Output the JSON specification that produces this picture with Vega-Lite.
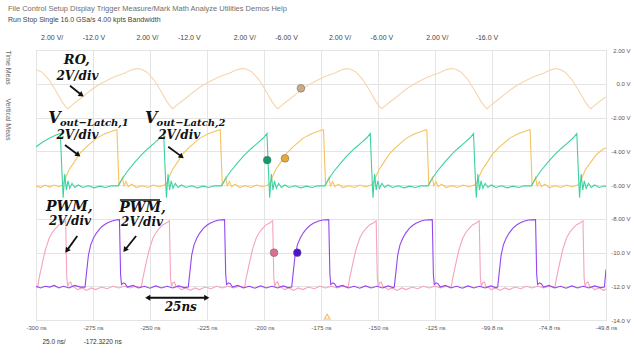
{
  "$schema": "https://vega.github.io/schema/vega-lite/v6.json",
  "width": 570,
  "height": 270,
  "autosize": {"type": "none"},
  "padding": {"left": 36, "top": 50, "right": 28, "bottom": 34},
  "background": "white",
  "config": {"view": {"stroke": "#bdbdbd", "strokeWidth": 1}, "font": "Liberation Sans"},
  "title": {
    "text": "File  Control  Setup  Display  Trigger  Measure/Mark  Math  Analyze  Utilities  Demos  Help",
    "subtitle": ["Run  Stop  Single     16.0 GSa/s     4.00 kpts     Bandwidth", "\u200b\u00a0\u00a0\u00a0\u00a0\u00a0\u00a0\u00a0\u00a0\u00a0\u00a0\u00a0\u00a0\u00a0\u00a0\u00a0\u00a0\u00a02.00 V/\u00a0\u00a0\u00a0\u00a0\u00a0\u00a0\u00a0\u00a0\u00a0\u00a0-12.0 V\u00a0\u00a0\u00a0\u00a0\u00a0\u00a0\u00a0\u00a0\u00a0\u00a0\u00a0\u00a0\u00a0\u00a0\u00a0\u00a02.00 V/\u00a0\u00a0\u00a0\u00a0\u00a0\u00a0\u00a0\u00a0\u00a0\u00a0-12.0 V\u00a0\u00a0\u00a0\u00a0\u00a0\u00a0\u00a0\u00a0\u00a0\u00a0\u00a0\u00a0\u00a0\u00a0\u00a0\u00a0\u00a02.00 V/\u00a0\u00a0\u00a0\u00a0\u00a0\u00a0\u00a0\u00a0\u00a0\u00a0-6.00 V\u00a0\u00a0\u00a0\u00a0\u00a0\u00a0\u00a0\u00a0\u00a0\u00a0\u00a0\u00a0\u00a0\u00a0\u00a0\u00a02.00 V/\u00a0\u00a0\u00a0\u00a0\u00a0\u00a0\u00a0\u00a0\u00a0\u00a0-6.00 V\u00a0\u00a0\u00a0\u00a0\u00a0\u00a0\u00a0\u00a0\u00a0\u00a0\u00a0\u00a0\u00a0\u00a0\u00a0\u00a0\u00a02.00 V/\u00a0\u00a0\u00a0\u00a0\u00a0\u00a0\u00a0\u00a0\u00a0\u00a0\u00a0\u00a0\u00a0\u00a0-16.0 V"],
    "anchor": "start",
    "frame": "group",
    "dx": -28,
    "offset": 6,
    "font": "Liberation Sans",
    "fontSize": 7.5,
    "fontWeight": "normal",
    "color": "#707070",
    "subtitleFont": "Liberation Sans",
    "subtitleFontSize": 7,
    "subtitleColor": "#444444",
    "subtitlePadding": 4,
    "subtitleLineHeight": 18
  },
  "resolve": {"axis": {"y": "independent"}},
  "datasets": {
    "tr": [
      {"c":"R","t":-300,"v":0.82},{"c":"R","t":-299.5,"v":0.8},{"c":"R","t":-297.5,"v":0.7},{"c":"R","t":-296.0,"v":0.5},{"c":"R","t":-294.4,"v":0.25},{"c":"R","t":-291.5,"v":-0.37},{"c":"R","t":-288.6,"v":-1.06},{"c":"R","t":-287.0,"v":-1.35},{"c":"R","t":-286.0,"v":-1.48},
      {"c":"R","t":-284.5,"v":-1.3},{"c":"R","t":-282.5,"v":-1.08},{"c":"R","t":-280.3,"v":-0.86},{"c":"R","t":-278.0,"v":-0.6},{"c":"R","t":-275.8,"v":-0.37},{"c":"R","t":-273.0,"v":-0.1},{"c":"R","t":-270.0,"v":0.12},{"c":"R","t":-265.6,"v":0.42},{"c":"R","t":-261.2,"v":0.62},{"c":"R","t":-258.5,"v":0.8},{"c":"R","t":-256.5,"v":0.88},
      {"c":"R","t":-255.0,"v":0.9},{"c":"R","t":-253.5,"v":0.84},{"c":"R","t":-251.5,"v":0.7},{"c":"R","t":-250.0,"v":0.5},{"c":"R","t":-248.4,"v":0.25},{"c":"R","t":-245.5,"v":-0.37},{"c":"R","t":-242.6,"v":-1.06},{"c":"R","t":-241.0,"v":-1.35},{"c":"R","t":-240.0,"v":-1.48},
      {"c":"R","t":-238.5,"v":-1.3},{"c":"R","t":-236.5,"v":-1.08},{"c":"R","t":-234.3,"v":-0.86},{"c":"R","t":-232.0,"v":-0.6},{"c":"R","t":-229.8,"v":-0.37},{"c":"R","t":-227.0,"v":-0.1},{"c":"R","t":-224.0,"v":0.12},{"c":"R","t":-219.6,"v":0.42},{"c":"R","t":-215.2,"v":0.62},{"c":"R","t":-212.5,"v":0.8},{"c":"R","t":-210.5,"v":0.88},
      {"c":"R","t":-208.9,"v":0.9},{"c":"R","t":-207.4,"v":0.84},{"c":"R","t":-205.4,"v":0.7},{"c":"R","t":-203.9,"v":0.5},{"c":"R","t":-202.3,"v":0.25},{"c":"R","t":-199.4,"v":-0.37},{"c":"R","t":-196.5,"v":-1.06},{"c":"R","t":-194.9,"v":-1.35},{"c":"R","t":-193.9,"v":-1.48},
      {"c":"R","t":-192.4,"v":-1.3},{"c":"R","t":-190.4,"v":-1.08},{"c":"R","t":-188.2,"v":-0.86},{"c":"R","t":-185.9,"v":-0.6},{"c":"R","t":-183.7,"v":-0.37},{"c":"R","t":-180.9,"v":-0.1},{"c":"R","t":-177.9,"v":0.12},{"c":"R","t":-173.5,"v":0.42},{"c":"R","t":-169.1,"v":0.62},{"c":"R","t":-166.4,"v":0.8},{"c":"R","t":-164.4,"v":0.88},
      {"c":"R","t":-163.3,"v":0.9},{"c":"R","t":-161.8,"v":0.84},{"c":"R","t":-159.8,"v":0.7},{"c":"R","t":-158.3,"v":0.5},{"c":"R","t":-156.7,"v":0.25},{"c":"R","t":-153.8,"v":-0.37},{"c":"R","t":-150.9,"v":-1.06},{"c":"R","t":-149.3,"v":-1.35},{"c":"R","t":-148.3,"v":-1.48},
      {"c":"R","t":-146.8,"v":-1.3},{"c":"R","t":-144.8,"v":-1.08},{"c":"R","t":-142.6,"v":-0.86},{"c":"R","t":-140.3,"v":-0.6},{"c":"R","t":-138.1,"v":-0.37},{"c":"R","t":-135.3,"v":-0.1},{"c":"R","t":-132.3,"v":0.12},{"c":"R","t":-127.9,"v":0.42},{"c":"R","t":-123.5,"v":0.62},{"c":"R","t":-120.8,"v":0.8},{"c":"R","t":-118.8,"v":0.88},
      {"c":"R","t":-117.2,"v":0.9},{"c":"R","t":-115.7,"v":0.84},{"c":"R","t":-113.7,"v":0.7},{"c":"R","t":-112.2,"v":0.5},{"c":"R","t":-110.6,"v":0.25},{"c":"R","t":-107.7,"v":-0.37},{"c":"R","t":-104.8,"v":-1.06},{"c":"R","t":-103.2,"v":-1.35},{"c":"R","t":-102.2,"v":-1.48},
      {"c":"R","t":-100.7,"v":-1.3},{"c":"R","t":-98.7,"v":-1.08},{"c":"R","t":-96.5,"v":-0.86},{"c":"R","t":-94.2,"v":-0.6},{"c":"R","t":-92.0,"v":-0.37},{"c":"R","t":-89.2,"v":-0.1},{"c":"R","t":-86.2,"v":0.12},{"c":"R","t":-81.8,"v":0.42},{"c":"R","t":-77.4,"v":0.62},{"c":"R","t":-74.7,"v":0.8},{"c":"R","t":-72.7,"v":0.88},
      {"c":"R","t":-71.6,"v":0.9},{"c":"R","t":-70.1,"v":0.84},{"c":"R","t":-68.1,"v":0.7},{"c":"R","t":-66.6,"v":0.5},{"c":"R","t":-65.0,"v":0.25},{"c":"R","t":-62.1,"v":-0.37},{"c":"R","t":-59.2,"v":-1.06},{"c":"R","t":-57.6,"v":-1.35},{"c":"R","t":-56.6,"v":-1.48},
      {"c":"R","t":-55.1,"v":-1.3},{"c":"R","t":-53.1,"v":-1.08},{"c":"R","t":-50.9,"v":-0.86},{"c":"R","t":-50.0,"v":-0.78},

      {"c":"O","t":-300,"v":-6.05},{"c":"O","t":-298,"v":-6.15},{"c":"O","t":-296,"v":-6.0},{"c":"O","t":-294,"v":-6.12},{"c":"O","t":-292,"v":-6.0},{"c":"O","t":-290,"v":-6.1},{"c":"O","t":-288.6,"v":-6.02},
      {"c":"O","t":-288.0,"v":-5.9},{"c":"O","t":-287.0,"v":-5.55},{"c":"O","t":-285.5,"v":-5.1},{"c":"O","t":-283.6,"v":-4.72},{"c":"O","t":-280.7,"v":-4.12},{"c":"O","t":-278.0,"v":-3.75},{"c":"O","t":-273.4,"v":-3.22},{"c":"O","t":-270.0,"v":-2.98},{"c":"O","t":-266.1,"v":-2.78},{"c":"O","t":-264.5,"v":-2.72},{"c":"O","t":-263.6,"v":-6.0},{"c":"O","t":-262.8,"v":-5.8},{"c":"O","t":-262.1,"v":-5.55},{"c":"O","t":-261.4,"v":-6.05},{"c":"O","t":-260.5,"v":-5.8},{"c":"O","t":-259.5,"v":-6.1},{"c":"O","t":-258.0,"v":-5.95},{"c":"O","t":-256.0,"v":-6.15},{"c":"O","t":-253.5,"v":-6.05},{"c":"O","t":-251.0,"v":-6.15},{"c":"O","t":-248.5,"v":-6.0},{"c":"O","t":-246.0,"v":-6.12},{"c":"O","t":-243.7,"v":-6.0},
      {"c":"O","t":-242.7,"v":-5.9},{"c":"O","t":-241.7,"v":-5.55},{"c":"O","t":-240.2,"v":-5.1},{"c":"O","t":-238.3,"v":-4.72},{"c":"O","t":-235.4,"v":-4.12},{"c":"O","t":-232.7,"v":-3.75},{"c":"O","t":-228.1,"v":-3.22},{"c":"O","t":-224.7,"v":-2.98},{"c":"O","t":-220.8,"v":-2.78},{"c":"O","t":-219.2,"v":-2.72},{"c":"O","t":-218.3,"v":-6.0},{"c":"O","t":-217.5,"v":-5.8},{"c":"O","t":-216.8,"v":-5.55},{"c":"O","t":-216.1,"v":-6.05},{"c":"O","t":-215.2,"v":-5.8},{"c":"O","t":-214.2,"v":-6.1},{"c":"O","t":-212.7,"v":-5.95},{"c":"O","t":-210.7,"v":-6.15},{"c":"O","t":-208.2,"v":-6.05},{"c":"O","t":-205.7,"v":-6.15},{"c":"O","t":-203.2,"v":-6.0},{"c":"O","t":-200.7,"v":-6.12},{"c":"O","t":-198.4,"v":-6.0},
      {"c":"O","t":-197.4,"v":-5.9},{"c":"O","t":-196.4,"v":-5.55},{"c":"O","t":-194.9,"v":-5.1},{"c":"O","t":-193.0,"v":-4.72},{"c":"O","t":-190.1,"v":-4.12},{"c":"O","t":-187.4,"v":-3.75},{"c":"O","t":-182.8,"v":-3.22},{"c":"O","t":-179.4,"v":-2.98},{"c":"O","t":-175.5,"v":-2.78},{"c":"O","t":-173.9,"v":-2.72},{"c":"O","t":-173.0,"v":-6.0},{"c":"O","t":-172.2,"v":-5.8},{"c":"O","t":-171.5,"v":-5.55},{"c":"O","t":-170.8,"v":-6.05},{"c":"O","t":-169.9,"v":-5.8},{"c":"O","t":-168.9,"v":-6.1},{"c":"O","t":-167.4,"v":-5.95},{"c":"O","t":-165.4,"v":-6.15},{"c":"O","t":-162.9,"v":-6.05},{"c":"O","t":-160.4,"v":-6.15},{"c":"O","t":-157.9,"v":-6.0},{"c":"O","t":-155.4,"v":-6.12},{"c":"O","t":-153.1,"v":-6.0},
      {"c":"O","t":-152.1,"v":-5.9},{"c":"O","t":-151.1,"v":-5.55},{"c":"O","t":-149.6,"v":-5.1},{"c":"O","t":-147.7,"v":-4.72},{"c":"O","t":-144.8,"v":-4.12},{"c":"O","t":-142.1,"v":-3.75},{"c":"O","t":-137.5,"v":-3.22},{"c":"O","t":-134.1,"v":-2.98},{"c":"O","t":-130.2,"v":-2.78},{"c":"O","t":-128.6,"v":-2.72},{"c":"O","t":-127.7,"v":-6.0},{"c":"O","t":-126.9,"v":-5.8},{"c":"O","t":-126.2,"v":-5.55},{"c":"O","t":-125.5,"v":-6.05},{"c":"O","t":-124.6,"v":-5.8},{"c":"O","t":-123.6,"v":-6.1},{"c":"O","t":-122.1,"v":-5.95},{"c":"O","t":-120.1,"v":-6.15},{"c":"O","t":-117.6,"v":-6.05},{"c":"O","t":-115.1,"v":-6.15},{"c":"O","t":-112.6,"v":-6.0},{"c":"O","t":-110.1,"v":-6.12},{"c":"O","t":-107.8,"v":-6.0},
      {"c":"O","t":-106.8,"v":-5.9},{"c":"O","t":-105.8,"v":-5.55},{"c":"O","t":-104.3,"v":-5.1},{"c":"O","t":-102.4,"v":-4.72},{"c":"O","t":-99.5,"v":-4.12},{"c":"O","t":-96.8,"v":-3.75},{"c":"O","t":-92.2,"v":-3.22},{"c":"O","t":-88.8,"v":-2.98},{"c":"O","t":-84.9,"v":-2.78},{"c":"O","t":-83.3,"v":-2.72},{"c":"O","t":-82.4,"v":-6.0},{"c":"O","t":-81.6,"v":-5.8},{"c":"O","t":-80.9,"v":-5.55},{"c":"O","t":-80.2,"v":-6.05},{"c":"O","t":-79.3,"v":-5.8},{"c":"O","t":-78.3,"v":-6.1},{"c":"O","t":-76.8,"v":-5.95},{"c":"O","t":-74.8,"v":-6.15},{"c":"O","t":-72.3,"v":-6.05},{"c":"O","t":-69.8,"v":-6.15},{"c":"O","t":-67.3,"v":-6.0},{"c":"O","t":-64.8,"v":-6.12},{"c":"O","t":-62.5,"v":-6.0},
      {"c":"O","t":-61.5,"v":-5.9},{"c":"O","t":-60.5,"v":-5.55},{"c":"O","t":-59.0,"v":-5.1},{"c":"O","t":-57.1,"v":-4.72},{"c":"O","t":-54.2,"v":-4.2},{"c":"O","t":-51.5,"v":-3.9},{"c":"O","t":-50.0,"v":-3.8},

      {"c":"G","t":-300,"v":-3.73},{"c":"G","t":-297,"v":-3.45},{"c":"G","t":-294,"v":-3.22},{"c":"G","t":-291.5,"v":-3.05},{"c":"G","t":-289.3,"v":-2.95},
      {"c":"G","t":-288.7,"v":-5.0},{"c":"G","t":-288.1,"v":-6.75},{"c":"G","t":-287.4,"v":-5.35},{"c":"G","t":-286.7,"v":-6.3},{"c":"G","t":-286.0,"v":-5.75},{"c":"G","t":-285.2,"v":-6.2},{"c":"G","t":-284.2,"v":-5.9},{"c":"G","t":-283.0,"v":-6.15},{"c":"G","t":-281.5,"v":-6.0},{"c":"G","t":-279.5,"v":-6.15},{"c":"G","t":-277.0,"v":-6.05},{"c":"G","t":-274.5,"v":-6.17},{"c":"G","t":-272.0,"v":-6.07},{"c":"G","t":-269.5,"v":-6.15},{"c":"G","t":-267.0,"v":-6.05},{"c":"G","t":-264.0,"v":-6.05},{"c":"G","t":-262.5,"v":-5.7},{"c":"G","t":-260.0,"v":-5.2},{"c":"G","t":-257.0,"v":-4.7},{"c":"G","t":-254.0,"v":-4.25},{"c":"G","t":-251.0,"v":-3.85},{"c":"G","t":-248.0,"v":-3.5},{"c":"G","t":-245.5,"v":-3.2},{"c":"G","t":-244.0,"v":-2.95},
      {"c":"G","t":-243.4,"v":-5.0},{"c":"G","t":-242.8,"v":-6.75},{"c":"G","t":-242.1,"v":-5.35},{"c":"G","t":-241.4,"v":-6.3},{"c":"G","t":-240.7,"v":-5.75},{"c":"G","t":-239.9,"v":-6.2},{"c":"G","t":-238.9,"v":-5.9},{"c":"G","t":-237.7,"v":-6.15},{"c":"G","t":-236.2,"v":-6.0},{"c":"G","t":-234.2,"v":-6.15},{"c":"G","t":-231.7,"v":-6.05},{"c":"G","t":-229.2,"v":-6.17},{"c":"G","t":-226.7,"v":-6.07},{"c":"G","t":-224.2,"v":-6.15},{"c":"G","t":-221.7,"v":-6.05},{"c":"G","t":-218.7,"v":-6.05},{"c":"G","t":-217.2,"v":-5.7},{"c":"G","t":-214.7,"v":-5.2},{"c":"G","t":-211.7,"v":-4.7},{"c":"G","t":-208.7,"v":-4.25},{"c":"G","t":-205.7,"v":-3.85},{"c":"G","t":-202.7,"v":-3.5},{"c":"G","t":-200.2,"v":-3.2},{"c":"G","t":-198.7,"v":-2.95},
      {"c":"G","t":-198.1,"v":-5.0},{"c":"G","t":-197.5,"v":-6.75},{"c":"G","t":-196.8,"v":-5.35},{"c":"G","t":-196.1,"v":-6.3},{"c":"G","t":-195.4,"v":-5.75},{"c":"G","t":-194.6,"v":-6.2},{"c":"G","t":-193.6,"v":-5.9},{"c":"G","t":-192.4,"v":-6.15},{"c":"G","t":-190.9,"v":-6.0},{"c":"G","t":-188.9,"v":-6.15},{"c":"G","t":-186.4,"v":-6.05},{"c":"G","t":-183.9,"v":-6.17},{"c":"G","t":-181.4,"v":-6.07},{"c":"G","t":-178.9,"v":-6.15},{"c":"G","t":-176.4,"v":-6.05},{"c":"G","t":-173.4,"v":-6.05},{"c":"G","t":-171.9,"v":-5.7},{"c":"G","t":-169.4,"v":-5.2},{"c":"G","t":-166.4,"v":-4.7},{"c":"G","t":-163.4,"v":-4.25},{"c":"G","t":-160.4,"v":-3.85},{"c":"G","t":-157.4,"v":-3.5},{"c":"G","t":-154.9,"v":-3.2},{"c":"G","t":-153.4,"v":-2.95},
      {"c":"G","t":-152.8,"v":-5.0},{"c":"G","t":-152.2,"v":-6.75},{"c":"G","t":-151.5,"v":-5.35},{"c":"G","t":-150.8,"v":-6.3},{"c":"G","t":-150.1,"v":-5.75},{"c":"G","t":-149.3,"v":-6.2},{"c":"G","t":-148.3,"v":-5.9},{"c":"G","t":-147.1,"v":-6.15},{"c":"G","t":-145.6,"v":-6.0},{"c":"G","t":-143.6,"v":-6.15},{"c":"G","t":-141.1,"v":-6.05},{"c":"G","t":-138.6,"v":-6.17},{"c":"G","t":-136.1,"v":-6.07},{"c":"G","t":-133.6,"v":-6.15},{"c":"G","t":-131.1,"v":-6.05},{"c":"G","t":-128.1,"v":-6.05},{"c":"G","t":-126.6,"v":-5.7},{"c":"G","t":-124.1,"v":-5.2},{"c":"G","t":-121.1,"v":-4.7},{"c":"G","t":-118.1,"v":-4.25},{"c":"G","t":-115.1,"v":-3.85},{"c":"G","t":-112.1,"v":-3.5},{"c":"G","t":-109.6,"v":-3.2},{"c":"G","t":-108.1,"v":-2.95},
      {"c":"G","t":-107.5,"v":-5.0},{"c":"G","t":-106.9,"v":-6.75},{"c":"G","t":-106.2,"v":-5.35},{"c":"G","t":-105.5,"v":-6.3},{"c":"G","t":-104.8,"v":-5.75},{"c":"G","t":-104.0,"v":-6.2},{"c":"G","t":-103.0,"v":-5.9},{"c":"G","t":-101.8,"v":-6.15},{"c":"G","t":-100.3,"v":-6.0},{"c":"G","t":-98.3,"v":-6.15},{"c":"G","t":-95.8,"v":-6.05},{"c":"G","t":-93.3,"v":-6.17},{"c":"G","t":-90.8,"v":-6.07},{"c":"G","t":-88.3,"v":-6.15},{"c":"G","t":-85.8,"v":-6.05},{"c":"G","t":-82.8,"v":-6.05},{"c":"G","t":-81.3,"v":-5.7},{"c":"G","t":-78.8,"v":-5.2},{"c":"G","t":-75.8,"v":-4.7},{"c":"G","t":-72.8,"v":-4.25},{"c":"G","t":-69.8,"v":-3.85},{"c":"G","t":-66.8,"v":-3.5},{"c":"G","t":-64.3,"v":-3.2},{"c":"G","t":-62.8,"v":-2.95},
      {"c":"G","t":-62.2,"v":-5.0},{"c":"G","t":-61.6,"v":-6.75},{"c":"G","t":-60.9,"v":-5.35},{"c":"G","t":-60.2,"v":-6.3},{"c":"G","t":-59.5,"v":-5.75},{"c":"G","t":-58.7,"v":-6.2},{"c":"G","t":-57.7,"v":-5.9},{"c":"G","t":-56.5,"v":-6.15},{"c":"G","t":-55.0,"v":-6.0},{"c":"G","t":-53.0,"v":-6.15},{"c":"G","t":-50.5,"v":-6.05},{"c":"G","t":-50.0,"v":-6.1},

      {"c":"P","t":-300,"v":-12.05},
      {"c":"P","t":-299.3,"v":-12.05},{"c":"P","t":-298.6,"v":-11.5},{"c":"P","t":-297.1,"v":-10.55},{"c":"P","t":-295.8,"v":-9.8},{"c":"P","t":-294.2,"v":-9.14},{"c":"P","t":-292.8,"v":-8.8},{"c":"P","t":-291.3,"v":-8.55},{"c":"P","t":-289.8,"v":-8.35},{"c":"P","t":-288.3,"v":-8.25},{"c":"P","t":-287.0,"v":-8.12},{"c":"P","t":-286.5,"v":-11.5},{"c":"P","t":-286.1,"v":-12.0},{"c":"P","t":-285.5,"v":-11.8},{"c":"P","t":-284.8,"v":-11.75},{"c":"P","t":-284.1,"v":-12.0},{"c":"P","t":-283.2,"v":-12.05},{"c":"P","t":-281.8,"v":-12.2},{"c":"P","t":-279.8,"v":-12.1},{"c":"P","t":-277.8,"v":-12.25},{"c":"P","t":-275.8,"v":-12.1},{"c":"P","t":-273.8,"v":-12.2},{"c":"P","t":-271.3,"v":-12.05},{"c":"P","t":-268.8,"v":-12.15},{"c":"P","t":-266.3,"v":-12.0},{"c":"P","t":-263.8,"v":-12.1},{"c":"P","t":-261.3,"v":-12.0},{"c":"P","t":-258.8,"v":-12.1},{"c":"P","t":-256.3,"v":-12.0},{"c":"P","t":-254.4,"v":-12.05},
      {"c":"P","t":-253.8,"v":-12.05},{"c":"P","t":-253.1,"v":-11.5},{"c":"P","t":-251.6,"v":-10.55},{"c":"P","t":-250.3,"v":-9.8},{"c":"P","t":-248.7,"v":-9.14},{"c":"P","t":-247.3,"v":-8.8},{"c":"P","t":-245.8,"v":-8.55},{"c":"P","t":-244.3,"v":-8.35},{"c":"P","t":-242.8,"v":-8.25},{"c":"P","t":-241.5,"v":-8.12},{"c":"P","t":-241.0,"v":-11.5},{"c":"P","t":-240.6,"v":-12.0},{"c":"P","t":-240.0,"v":-11.8},{"c":"P","t":-239.3,"v":-11.75},{"c":"P","t":-238.6,"v":-12.0},{"c":"P","t":-237.7,"v":-12.05},{"c":"P","t":-236.3,"v":-12.2},{"c":"P","t":-234.3,"v":-12.1},{"c":"P","t":-232.3,"v":-12.25},{"c":"P","t":-230.3,"v":-12.1},{"c":"P","t":-228.3,"v":-12.2},{"c":"P","t":-225.8,"v":-12.05},{"c":"P","t":-223.3,"v":-12.15},{"c":"P","t":-220.8,"v":-12.0},{"c":"P","t":-218.3,"v":-12.1},{"c":"P","t":-215.8,"v":-12.0},{"c":"P","t":-213.3,"v":-12.1},{"c":"P","t":-210.8,"v":-12.0},{"c":"P","t":-208.9,"v":-12.05},
      {"c":"P","t":-208.5,"v":-12.05},{"c":"P","t":-207.8,"v":-11.5},{"c":"P","t":-206.3,"v":-10.55},{"c":"P","t":-205.0,"v":-9.8},{"c":"P","t":-203.4,"v":-9.14},{"c":"P","t":-202.0,"v":-8.8},{"c":"P","t":-200.5,"v":-8.55},{"c":"P","t":-199.0,"v":-8.35},{"c":"P","t":-197.5,"v":-8.25},{"c":"P","t":-196.2,"v":-8.12},{"c":"P","t":-195.7,"v":-11.5},{"c":"P","t":-195.3,"v":-12.0},{"c":"P","t":-194.7,"v":-11.8},{"c":"P","t":-194.0,"v":-11.75},{"c":"P","t":-193.3,"v":-12.0},{"c":"P","t":-192.4,"v":-12.05},{"c":"P","t":-191.0,"v":-12.2},{"c":"P","t":-189.0,"v":-12.1},{"c":"P","t":-187.0,"v":-12.25},{"c":"P","t":-185.0,"v":-12.1},{"c":"P","t":-183.0,"v":-12.2},{"c":"P","t":-180.5,"v":-12.05},{"c":"P","t":-178.0,"v":-12.15},{"c":"P","t":-175.5,"v":-12.0},{"c":"P","t":-173.0,"v":-12.1},{"c":"P","t":-170.5,"v":-12.0},{"c":"P","t":-168.0,"v":-12.1},{"c":"P","t":-165.5,"v":-12.0},{"c":"P","t":-163.6,"v":-12.05},
      {"c":"P","t":-163.1,"v":-12.05},{"c":"P","t":-162.4,"v":-11.5},{"c":"P","t":-160.9,"v":-10.55},{"c":"P","t":-159.6,"v":-9.8},{"c":"P","t":-158.0,"v":-9.14},{"c":"P","t":-156.6,"v":-8.8},{"c":"P","t":-155.1,"v":-8.55},{"c":"P","t":-153.6,"v":-8.35},{"c":"P","t":-152.1,"v":-8.25},{"c":"P","t":-150.8,"v":-8.12},{"c":"P","t":-150.3,"v":-11.5},{"c":"P","t":-149.9,"v":-12.0},{"c":"P","t":-149.3,"v":-11.8},{"c":"P","t":-148.6,"v":-11.75},{"c":"P","t":-147.9,"v":-12.0},{"c":"P","t":-147.0,"v":-12.05},{"c":"P","t":-145.6,"v":-12.2},{"c":"P","t":-143.6,"v":-12.1},{"c":"P","t":-141.6,"v":-12.25},{"c":"P","t":-139.6,"v":-12.1},{"c":"P","t":-137.6,"v":-12.2},{"c":"P","t":-135.1,"v":-12.05},{"c":"P","t":-132.6,"v":-12.15},{"c":"P","t":-130.1,"v":-12.0},{"c":"P","t":-127.6,"v":-12.1},{"c":"P","t":-125.1,"v":-12.0},{"c":"P","t":-122.6,"v":-12.1},{"c":"P","t":-120.1,"v":-12.0},{"c":"P","t":-118.2,"v":-12.05},
      {"c":"P","t":-117.9,"v":-12.05},{"c":"P","t":-117.2,"v":-11.5},{"c":"P","t":-115.7,"v":-10.55},{"c":"P","t":-114.4,"v":-9.8},{"c":"P","t":-112.8,"v":-9.14},{"c":"P","t":-111.4,"v":-8.8},{"c":"P","t":-109.9,"v":-8.55},{"c":"P","t":-108.4,"v":-8.35},{"c":"P","t":-106.9,"v":-8.25},{"c":"P","t":-105.6,"v":-8.12},{"c":"P","t":-105.1,"v":-11.5},{"c":"P","t":-104.7,"v":-12.0},{"c":"P","t":-104.1,"v":-11.8},{"c":"P","t":-103.4,"v":-11.75},{"c":"P","t":-102.7,"v":-12.0},{"c":"P","t":-101.8,"v":-12.05},{"c":"P","t":-100.4,"v":-12.2},{"c":"P","t":-98.4,"v":-12.1},{"c":"P","t":-96.4,"v":-12.25},{"c":"P","t":-94.4,"v":-12.1},{"c":"P","t":-92.4,"v":-12.2},{"c":"P","t":-89.9,"v":-12.05},{"c":"P","t":-87.4,"v":-12.15},{"c":"P","t":-84.9,"v":-12.0},{"c":"P","t":-82.4,"v":-12.1},{"c":"P","t":-79.9,"v":-12.0},{"c":"P","t":-77.4,"v":-12.1},{"c":"P","t":-74.9,"v":-12.0},{"c":"P","t":-73.0,"v":-12.05},
      {"c":"P","t":-72.4,"v":-12.05},{"c":"P","t":-71.7,"v":-11.5},{"c":"P","t":-70.2,"v":-10.55},{"c":"P","t":-68.9,"v":-9.8},{"c":"P","t":-67.3,"v":-9.14},{"c":"P","t":-65.9,"v":-8.8},{"c":"P","t":-64.4,"v":-8.55},{"c":"P","t":-62.9,"v":-8.35},{"c":"P","t":-61.4,"v":-8.25},{"c":"P","t":-60.1,"v":-8.12},{"c":"P","t":-59.6,"v":-11.5},{"c":"P","t":-59.2,"v":-12.0},{"c":"P","t":-58.6,"v":-11.8},{"c":"P","t":-57.9,"v":-11.75},{"c":"P","t":-57.2,"v":-12.0},{"c":"P","t":-56.3,"v":-12.05},{"c":"P","t":-54.9,"v":-12.2},{"c":"P","t":-52.9,"v":-12.1},{"c":"P","t":-50.9,"v":-12.25},{"c":"P","t":-50.0,"v":-12.15},

      {"c":"B","t":-300,"v":-12.0},{"c":"B","t":-298,"v":-12.1},{"c":"B","t":-296,"v":-12.0},{"c":"B","t":-294,"v":-12.05},{"c":"B","t":-292,"v":-11.95},{"c":"B","t":-290,"v":-12.1},{"c":"B","t":-288,"v":-12.0},{"c":"B","t":-285.5,"v":-12.1},{"c":"B","t":-283,"v":-11.95},{"c":"B","t":-280.5,"v":-12.05},{"c":"B","t":-278.5,"v":-12.05},
      {"c":"B","t":-278.0,"v":-11.4},{"c":"B","t":-277.0,"v":-10.15},{"c":"B","t":-276.0,"v":-9.55},{"c":"B","t":-274.8,"v":-9.16},{"c":"B","t":-273.5,"v":-8.85},{"c":"B","t":-271.9,"v":-8.57},{"c":"B","t":-270.5,"v":-8.4},{"c":"B","t":-269.0,"v":-8.27},{"c":"B","t":-267.0,"v":-8.15},{"c":"B","t":-265.0,"v":-8.07},{"c":"B","t":-263.4,"v":-8.05},{"c":"B","t":-262.9,"v":-11.3},{"c":"B","t":-262.5,"v":-11.9},{"c":"B","t":-261.7,"v":-11.8},{"c":"B","t":-260.9,"v":-11.85},{"c":"B","t":-259.9,"v":-12.05},{"c":"B","t":-257.5,"v":-11.95},{"c":"B","t":-255.0,"v":-12.1},{"c":"B","t":-252.5,"v":-12.0},{"c":"B","t":-250.0,"v":-12.12},{"c":"B","t":-247.5,"v":-11.98},{"c":"B","t":-245.0,"v":-12.1},{"c":"B","t":-242.5,"v":-12.0},{"c":"B","t":-240.0,"v":-12.1},{"c":"B","t":-237.5,"v":-11.98},{"c":"B","t":-235.0,"v":-12.08},{"c":"B","t":-233.2,"v":-12.05},
      {"c":"B","t":-232.7,"v":-11.4},{"c":"B","t":-231.7,"v":-10.15},{"c":"B","t":-230.7,"v":-9.55},{"c":"B","t":-229.5,"v":-9.16},{"c":"B","t":-228.2,"v":-8.85},{"c":"B","t":-226.6,"v":-8.57},{"c":"B","t":-225.2,"v":-8.4},{"c":"B","t":-223.7,"v":-8.27},{"c":"B","t":-221.7,"v":-8.15},{"c":"B","t":-219.7,"v":-8.07},{"c":"B","t":-217.3,"v":-8.05},{"c":"B","t":-216.8,"v":-11.3},{"c":"B","t":-216.4,"v":-11.9},{"c":"B","t":-215.6,"v":-11.8},{"c":"B","t":-214.8,"v":-11.85},{"c":"B","t":-213.8,"v":-12.05},{"c":"B","t":-211.5,"v":-11.95},{"c":"B","t":-209.0,"v":-12.1},{"c":"B","t":-206.5,"v":-12.0},{"c":"B","t":-204.0,"v":-12.12},{"c":"B","t":-201.5,"v":-11.98},{"c":"B","t":-199.0,"v":-12.1},{"c":"B","t":-196.5,"v":-12.0},{"c":"B","t":-194.0,"v":-12.1},{"c":"B","t":-191.5,"v":-11.98},{"c":"B","t":-189.5,"v":-12.08},{"c":"B","t":-187.85,"v":-12.05},
      {"c":"B","t":-187.35,"v":-11.4},{"c":"B","t":-186.35,"v":-10.15},{"c":"B","t":-185.35,"v":-9.55},{"c":"B","t":-184.15,"v":-9.16},{"c":"B","t":-182.85,"v":-8.85},{"c":"B","t":-181.25,"v":-8.57},{"c":"B","t":-179.85,"v":-8.4},{"c":"B","t":-178.35,"v":-8.27},{"c":"B","t":-176.35,"v":-8.15},{"c":"B","t":-174.35,"v":-8.07},{"c":"B","t":-171.6,"v":-8.05},{"c":"B","t":-171.1,"v":-11.3},{"c":"B","t":-170.7,"v":-11.9},{"c":"B","t":-169.9,"v":-11.8},{"c":"B","t":-169.1,"v":-11.85},{"c":"B","t":-168.1,"v":-12.05},{"c":"B","t":-165.5,"v":-11.95},{"c":"B","t":-163.0,"v":-12.1},{"c":"B","t":-160.5,"v":-12.0},{"c":"B","t":-158.0,"v":-12.12},{"c":"B","t":-155.5,"v":-11.98},{"c":"B","t":-153.0,"v":-12.1},{"c":"B","t":-150.5,"v":-12.0},{"c":"B","t":-148.0,"v":-12.1},{"c":"B","t":-145.5,"v":-11.98},{"c":"B","t":-143.5,"v":-12.08},{"c":"B","t":-142.85,"v":-12.05},
      {"c":"B","t":-142.35,"v":-11.4},{"c":"B","t":-141.35,"v":-10.15},{"c":"B","t":-140.35,"v":-9.55},{"c":"B","t":-139.15,"v":-9.16},{"c":"B","t":-137.85,"v":-8.85},{"c":"B","t":-136.25,"v":-8.57},{"c":"B","t":-134.85,"v":-8.4},{"c":"B","t":-133.35,"v":-8.27},{"c":"B","t":-131.35,"v":-8.15},{"c":"B","t":-129.35,"v":-8.07},{"c":"B","t":-126.2,"v":-8.05},{"c":"B","t":-125.7,"v":-11.3},{"c":"B","t":-125.3,"v":-11.9},{"c":"B","t":-124.5,"v":-11.8},{"c":"B","t":-123.7,"v":-11.85},{"c":"B","t":-122.7,"v":-12.05},{"c":"B","t":-120.5,"v":-11.95},{"c":"B","t":-118.0,"v":-12.1},{"c":"B","t":-115.5,"v":-12.0},{"c":"B","t":-113.0,"v":-12.12},{"c":"B","t":-110.5,"v":-11.98},{"c":"B","t":-108.0,"v":-12.1},{"c":"B","t":-105.5,"v":-12.0},{"c":"B","t":-103.0,"v":-12.1},{"c":"B","t":-100.5,"v":-11.98},{"c":"B","t":-98.5,"v":-12.08},{"c":"B","t":-97.5,"v":-12.05},
      {"c":"B","t":-97.0,"v":-11.4},{"c":"B","t":-96.0,"v":-10.15},{"c":"B","t":-95.0,"v":-9.55},{"c":"B","t":-93.8,"v":-9.16},{"c":"B","t":-92.5,"v":-8.85},{"c":"B","t":-90.9,"v":-8.57},{"c":"B","t":-89.5,"v":-8.4},{"c":"B","t":-88.0,"v":-8.27},{"c":"B","t":-86.0,"v":-8.15},{"c":"B","t":-84.0,"v":-8.07},{"c":"B","t":-80.9,"v":-8.05},{"c":"B","t":-80.4,"v":-11.3},{"c":"B","t":-80.0,"v":-11.9},{"c":"B","t":-79.2,"v":-11.8},{"c":"B","t":-78.4,"v":-11.85},{"c":"B","t":-77.4,"v":-12.05},{"c":"B","t":-75.0,"v":-11.95},{"c":"B","t":-72.5,"v":-12.1},{"c":"B","t":-70.0,"v":-12.0},{"c":"B","t":-67.5,"v":-12.12},{"c":"B","t":-65.0,"v":-11.98},{"c":"B","t":-62.5,"v":-12.1},{"c":"B","t":-60.0,"v":-12.0},{"c":"B","t":-57.5,"v":-12.1},{"c":"B","t":-55.0,"v":-11.98},{"c":"B","t":-52.5,"v":-12.08},{"c":"B","t":-50.7,"v":-12.05},{"c":"B","t":-50.0,"v":-11.0}
    ],
    "mk": [
      {"c":"R","t":-183.8,"v":-0.27},{"c":"G","t":-198.6,"v":-4.52},{"c":"O","t":-190.8,"v":-4.42},{"c":"P","t":-195.6,"v":-10.01},{"c":"B","t":-185.4,"v":-10.01}
    ],
    "trig": [{"t":-172.3,"v":-13.8}],
    "tx": [
      {"k":"ro","t":-282.1,"v":1.17,"s":"RO,"},
      {"k":"pw","t":-285.4,"v":-7.52,"s":"PWM,"},
      {"k":"pw","t":-253.3,"v":-7.62,"s":"PWM,"},
      {"k":"vv","t":-294.6,"v":-2.34,"s":"V"},
      {"k":"vv","t":-252.2,"v":-2.34,"s":"V"},
      {"k":"sub","t":-289.5,"v":-2.5,"s":"out−Latch,1"},
      {"k":"sub","t":-247.1,"v":-2.5,"s":"out−Latch,2"},
      {"k":"dv","t":-281.8,"v":0.22,"s":"2V/div"},
      {"k":"dv","t":-281.8,"v":-3.27,"s":"2V/div"},
      {"k":"dv","t":-237.2,"v":-3.27,"s":"2V/div"},
      {"k":"dv","t":-285.1,"v":-8.37,"s":"2V/div"},
      {"k":"dv","t":-253.5,"v":-8.43,"s":"2V/div"},
      {"k":"dv","t":-236.5,"v":-13.45,"s":"25ns"}
    ],
    "ar": [
      {"d":"dr","t":-285.1,"v":-0.12,"t2":-280.0,"v2":-0.67},
      {"d":"dr","t":-287.3,"v":-3.63,"t2":-281.45,"v2":-4.22},
      {"d":"dr","t":-242.0,"v":-3.73,"t2":-236.1,"v2":-4.32},
      {"d":"dl","t":-281.9,"v":-9.02,"t2":-286.5,"v2":-9.89},
      {"d":"dl","t":-256.1,"v":-9.02,"t2":-261.0,"v2":-9.85},
      {"d":"h","t":-251.0,"v":-12.68,"t2":-225.1,"v2":-12.68}
    ],
    "ov": [{"t":-263.2,"v":-6.89,"t2":-245.6,"v2":-6.89}]
  },
  "encoding": {
    "x": {"field": "t", "type": "quantitative", "scale": {"domain": [-300, -50], "nice": false, "zero": false}},
    "y": {"field": "v", "type": "quantitative", "scale": {"domain": [-14, 2], "nice": false, "zero": false}, "axis": null}
  },
  "layer": [
    {
      "data": {"name": "tr"},
      "mark": {"type": "line", "strokeWidth": 1.1, "clip": true},
      "encoding": {
        "x": {"field": "t", "type": "quantitative", "scale": {"domain": [-300, -50], "nice": false, "zero": false},
          "axis": {"values": [-300,-275,-250,-225,-200,-175,-150,-125,-100,-75,-50], "labelExpr": "datum.value >= -100 ? '-' + format(abs(datum.value) - 0.2, '.1f') + ' ns' : datum.value + ' ns'", "grid": true, "gridColor": "#e4e4e4", "ticks": false, "domain": false, "labelFontSize": 6, "labelColor": "#555555", "labelPadding": 4, "labelOverlap": false, "labelBound": false, "labelFlush": false,
            "title": "25.0 ns/\u00a0\u00a0\u00a0\u00a0\u00a0\u00a0\u00a0\u00a0\u00a0\u00a0-172.3220 ns", "titleAnchor": "start", "titleAlign": "left", "titleFontSize": 6.5, "titleFontWeight": "normal", "titleColor": "#333333", "titlePadding": 8, "titleX": 6}},
        "y": {"field": "v", "type": "quantitative", "scale": {"domain": [-14, 2], "nice": false, "zero": false},
          "axis": {"orient": "right", "values": [2,0,-2,-4,-6,-8,-10,-12,-14], "labelExpr": "datum.value == 0 ? '0.0 V' : (datum.value < 0 ? '-' : '') + (abs(datum.value) >= 10 ? format(abs(datum.value), '.1f') : format(abs(datum.value), '.2f')) + ' V'", "grid": true, "gridColor": "#e4e4e4", "ticks": false, "domain": false, "labelFontSize": 6, "labelColor": "#555555", "labelAlign": "right", "labelPadding": 24, "title": null}},
        "stroke": {"field": "c", "type": "nominal", "legend": null, "scale": {"domain": ["R","O","G","P","B"], "range": ["#f6d6ab","#f5c35f","#3dd29f","#f6a3bd","#9446ee"]}}
      }
    },
    {
      "data": {"name": "mk"},
      "mark": {"type": "point", "shape": "circle", "filled": true, "size": 60, "opacity": 1, "stroke": "#666666", "strokeWidth": 0.5},
      "encoding": {
        "y": {"field": "v", "type": "quantitative", "scale": {"domain": [-14, 2], "nice": false, "zero": false},
          "axis": {"orient": "left", "labels": false, "ticks": false, "domain": false, "grid": false, "title": "Time Meas\u00a0\u00a0\u00a0\u00a0\u00a0\u00a0\u00a0Vertical Meas", "titleAngle": 90, "titleAlign": "left", "titleBaseline": "middle", "titleX": -29, "titleY": 0, "titleFontSize": 7, "titleFontWeight": "normal", "titleColor": "#666666"}},
        "fill": {"field": "c", "type": "nominal", "legend": null, "scale": {"domain": ["R","O","G","P","B"], "range": ["#c9ab86","#e9a73a","#129a68","#d9708e","#4b12cf"]}}
      }
    },
    {
      "data": {"name": "trig"},
      "mark": {"type": "point", "shape": "triangle-up", "filled": false, "size": 30, "color": "#f0a040", "strokeWidth": 1.2}
    },
    {
      "data": {"name": "ar"},
      "mark": {"type": "rule", "color": "#111111", "strokeWidth": 1.8},
      "encoding": {"x2": {"field": "t2"}, "y2": {"field": "v2"}}
    },
    {
      "data": {"name": "ov"},
      "mark": {"type": "rule", "color": "#111111", "strokeWidth": 1.3},
      "encoding": {"x2": {"field": "t2"}, "y2": {"field": "v2"}}
    },
    {
      "data": {"name": "ar"},
      "transform": [{"filter": "datum.d == 'dr'"}],
      "mark": {"type": "point", "shape": "triangle-up", "filled": true, "size": 36, "color": "#111111", "opacity": 1, "angle": 127},
      "encoding": {
        "x": {"field": "t2", "type": "quantitative", "scale": {"domain": [-300, -50], "nice": false, "zero": false}},
        "y": {"field": "v2", "type": "quantitative", "scale": {"domain": [-14, 2], "nice": false, "zero": false}, "axis": null}
      }
    },
    {
      "data": {"name": "ar"},
      "transform": [{"filter": "datum.d == 'dl'"}],
      "mark": {"type": "point", "shape": "triangle-up", "filled": true, "size": 36, "color": "#111111", "opacity": 1, "angle": 217},
      "encoding": {
        "x": {"field": "t2", "type": "quantitative", "scale": {"domain": [-300, -50], "nice": false, "zero": false}},
        "y": {"field": "v2", "type": "quantitative", "scale": {"domain": [-14, 2], "nice": false, "zero": false}, "axis": null}
      }
    },
    {
      "data": {"name": "ar"},
      "transform": [{"filter": "datum.d == 'h'"}],
      "mark": {"type": "point", "shape": "triangle-up", "filled": true, "size": 36, "color": "#111111", "opacity": 1, "angle": 90},
      "encoding": {
        "x": {"field": "t2", "type": "quantitative", "scale": {"domain": [-300, -50], "nice": false, "zero": false}},
        "y": {"field": "v2", "type": "quantitative", "scale": {"domain": [-14, 2], "nice": false, "zero": false}, "axis": null}
      }
    },
    {
      "data": {"name": "ar"},
      "transform": [{"filter": "datum.d == 'h'"}],
      "mark": {"type": "point", "shape": "triangle-up", "filled": true, "size": 36, "color": "#111111", "opacity": 1, "angle": 270}
    },
    {
      "data": {"name": "tx"},
      "transform": [{"filter": "datum.k == 'ro'"}],
      "mark": {"type": "text", "font": "DejaVu Serif", "fontStyle": "italic", "fontWeight": "bold", "fontSize": 13, "align": "center", "baseline": "alphabetic", "color": "#111111"},
      "encoding": {"text": {"field": "s"}}
    },
    {
      "data": {"name": "tx"},
      "transform": [{"filter": "datum.k == 'pw'"}],
      "mark": {"type": "text", "font": "DejaVu Serif", "fontStyle": "italic", "fontWeight": "bold", "fontSize": 14, "align": "center", "baseline": "alphabetic", "color": "#111111"},
      "encoding": {"text": {"field": "s"}}
    },
    {
      "data": {"name": "tx"},
      "transform": [{"filter": "datum.k == 'vv'"}],
      "mark": {"type": "text", "font": "DejaVu Serif", "fontStyle": "italic", "fontWeight": "bold", "fontSize": 16, "align": "left", "baseline": "alphabetic", "color": "#111111"},
      "encoding": {"text": {"field": "s"}}
    },
    {
      "data": {"name": "tx"},
      "transform": [{"filter": "datum.k == 'sub'"}],
      "mark": {"type": "text", "font": "DejaVu Serif", "fontStyle": "italic", "fontWeight": "bold", "fontSize": 10, "align": "left", "baseline": "alphabetic", "color": "#111111"},
      "encoding": {"text": {"field": "s"}}
    },
    {
      "data": {"name": "tx"},
      "transform": [{"filter": "datum.k == 'dv'"}],
      "mark": {"type": "text", "font": "DejaVu Serif", "fontStyle": "italic", "fontWeight": "bold", "fontSize": 12, "align": "center", "baseline": "alphabetic", "color": "#111111"},
      "encoding": {"text": {"field": "s"}}
    }
  ]
}
